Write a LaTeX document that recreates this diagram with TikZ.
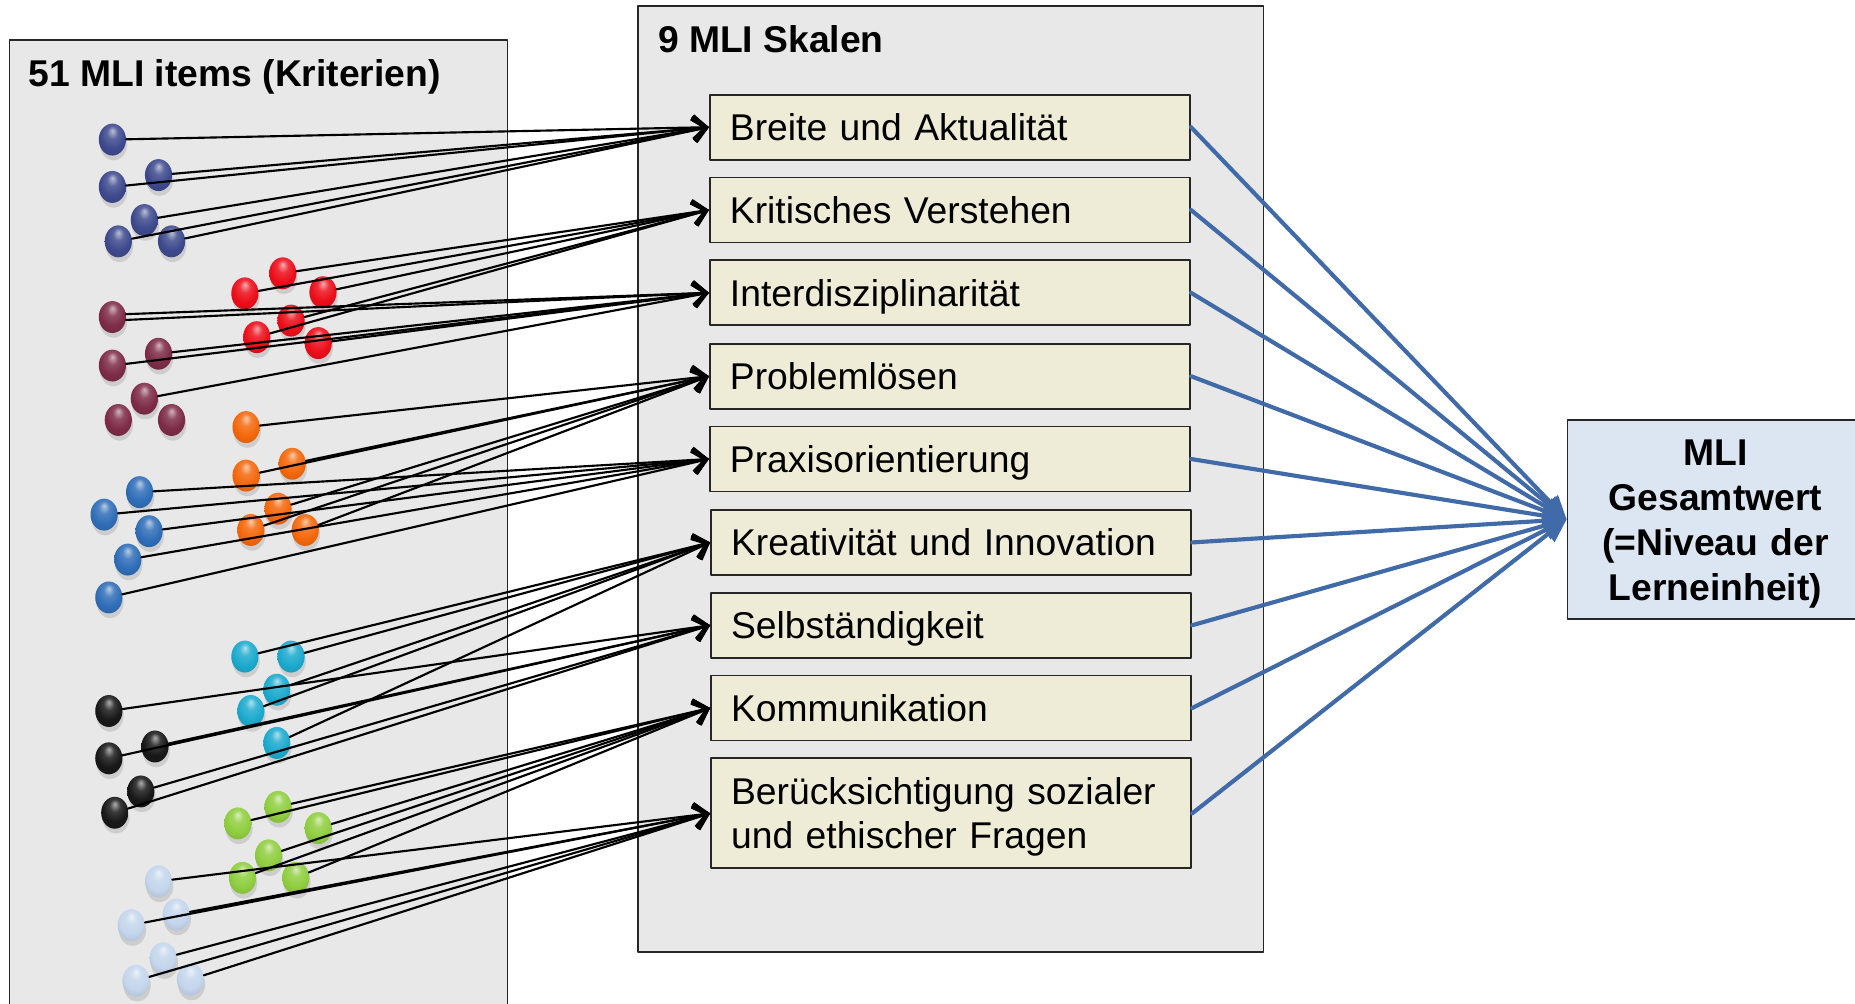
\documentclass[tikz,border=0pt]{standalone}
\usepackage{fontspec}
\setmainfont{Liberation Sans}
\usepackage{tikz}
\usetikzlibrary{arrows.meta}
\usetikzlibrary{shapes.geometric}
\usetikzlibrary{shadows}

\definecolor{boxgray}{RGB}{232,232,232}
\definecolor{skalebeige}{RGB}{238,236,214}
\definecolor{totalblue}{RGB}{220,230,242}
\definecolor{linkblue}{RGB}{65,106,168}
\definecolor{dotnavy}{RGB}{62,74,142}
\definecolor{dotred}{RGB}{236,14,26}
\definecolor{dotmaroon}{RGB}{126,44,72}
\definecolor{dotorange}{RGB}{244,104,12}
\definecolor{dotblue}{RGB}{48,110,184}
\definecolor{dotcyan}{RGB}{28,170,206}
\definecolor{dotblack}{RGB}{24,24,24}
\definecolor{dotgreen}{RGB}{144,206,64}
\definecolor{dotpale}{RGB}{196,214,236}
\colorlet{dotcol}{black}
\pgfdeclareradialshading[dotcol]{itemball}{\pgfpoint{0bp}{14bp}}{color(0bp)=(dotcol!35!white); color(10bp)=(dotcol!85!white); color(22bp)=(dotcol); color(40bp)=(dotcol!82!black); color(50bp)=(dotcol!65!black)}

\begin{document}
\begin{tikzpicture}[line cap=round,line join=round,x=1pt,y=-1pt,
  bigbox/.style={draw=black!85,fill=boxgray,line width=1.5pt},
  skala/.style={draw=black!85,fill=skalebeige,line width=1.5pt,minimum width=406pt,minimum height=55pt,
    inner xsep=17pt,text width=372pt,text height=22.6pt,text depth=0pt,align=left,font=\fontsize{31.5}{37}\selectfont},
  totalbox/.style={draw=black!85,fill=totalblue,line width=1.5pt,minimum width=250pt,minimum height=168pt,
    text width=230pt,text height=22.6pt,text depth=114pt,align=center,font=\fontsize{31.5}{38}\selectfont\bfseries},
  boxtitle/.style={anchor=base west,inner sep=0pt,font=\fontsize{31.5}{38}\selectfont\bfseries},
  itemcol/.code={\colorlet{dotcol}{#1}},
  dot/.style={ellipse,minimum width=23pt,minimum height=27pt,inner sep=0pt,shade,shading=itemball,
    drop shadow={shadow xshift=1pt,shadow yshift=-4pt,opacity=.25}},
  itemlink/.style={line width=1.8pt,-{Straight Barb[length=11pt,width=20pt,line width=3pt]}},
  totallink/.style={draw=linkblue,line width=3.5pt,-{Triangle[length=20pt,width=17pt]}}]
\path[use as bounding box] (0,0) rectangle (1568,848);
\node[bigbox,minimum width=421pt,minimum height=846pt] (items) at (218.5,457) {};
\node[bigbox,minimum width=529pt,minimum height=800pt] (skalen) at (803.5,405) {};
\node[boxtitle] (itemstitle) at (24,73.5) {51 MLI items (Kriterien)};
\node[boxtitle] (skalentitle) at (556,44.5) {9 MLI Skalen};
%scales
\node[skala] (bre) at (803,107.5) {Breite und Aktualität};
\node[skala] (kri) at (803,177.5) {Kritisches Verstehen};
\node[skala] (int) at (803,247.5) {Interdisziplinarität};
\node[skala] (pro) at (803,318) {Problemlösen};
\node[skala] (pra) at (803,388) {Praxisorientierung};
\node[skala] (kre) at (804,458.5) {Kreativität und Innovation};
\node[skala] (sel) at (804,528.5) {Selbständigkeit};
\node[skala] (kom) at (804,598.5) {Kommunikation};
\node[skala,minimum height=93pt,text depth=37pt] (ber) at (804,687.5) {Berücksichtigung sozialer\\und ethischer Fragen};
\node[totalbox] (gesamt) at (1450,439) {MLI\\Gesamtwert\\(=Niveau der\\Lerneinheit)};
%items
\foreach \x/\y [count=\i] in {95/118,95/158,134/148,122/186,100/204,145/204}
\node[dot,itemcol=dotnavy] (nv\i) at (\x,\y) {};
\foreach \x/\y [count=\i] in {239/231,207/248,273/247,246/271,217/285,269/290}
\node[dot,itemcol=dotred] (rd\i) at (\x,\y) {};
\foreach \x/\y [count=\i] in {95/268,134/299,95/309,122/337,100/355,145/355}
\node[dot,itemcol=dotmaroon] (mr\i) at (\x,\y) {};
\foreach \x/\y [count=\i] in {208/361,247/392,208/402,235/430,212/448,258/448}
\node[dot,itemcol=dotorange] (or\i) at (\x,\y) {};
\foreach \x/\y [count=\i] in {118/416,88/435,126/449,108/473,92/505}
\node[dot,itemcol=dotblue] (bl\i) at (\x,\y) {};
\foreach \x/\y [count=\i] in {207/555,246/555,234/583,212/601,234/628}
\node[dot,itemcol=dotcyan] (cy\i) at (\x,\y) {};
\foreach \x/\y [count=\i] in {92/601,131/631,92/641,119/669,97/687}
\node[dot,itemcol=dotblack] (bk\i) at (\x,\y) {};
\foreach \x/\y [count=\i] in {235/682,201/696,269/700,227/723,205/742,250/742}
\node[dot,itemcol=dotgreen] (gr\i) at (\x,\y) {};
\foreach \x/\y [count=\i] in {134/745,149/773,111/782,138/810,115/829,161/828}
\node[dot,itemcol=dotpale] (lb\i) at (\x,\y) {};
%item -> scale
\foreach \i in {1,...,6} \draw[itemlink] (nv\i) -- (bre.west);
\foreach \i in {1,...,5} \draw[itemlink] (rd\i) -- (kri.west);
\foreach \s in {mr1.12,mr1.-12,mr2,mr3,mr4,rd6} \draw[itemlink] (\s) -- (int.west);
\foreach \i in {1,...,6} \draw[itemlink] (or\i) -- (pro.west);
\foreach \i in {1,...,5} \draw[itemlink] (bl\i) -- (pra.west);
\foreach \i in {1,...,5} \draw[itemlink] (cy\i) -- (kre.west);
\foreach \i in {1,...,5} \draw[itemlink] (bk\i) -- (sel.west);
\foreach \i in {1,...,6} \draw[itemlink] (gr\i) -- (kom.west);
\foreach \i in {1,...,6} \draw[itemlink] (lb\i) -- (ber.west);
%scale -> total
\foreach \s in {bre,kri,int,pro,pra,kre,sel,kom,ber} \draw[totallink] (\s.east) -- (gesamt.west);
\end{tikzpicture}
\end{document}
